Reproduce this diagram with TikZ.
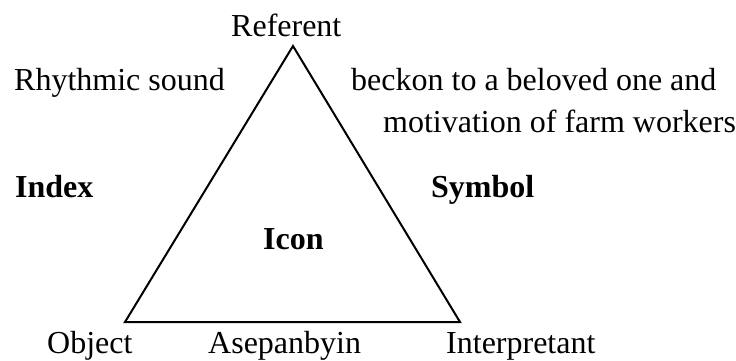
\documentclass[tikz,border=0pt]{standalone}
\usepackage{fontspec}
\setmainfont{Liberation Serif}
\begin{document}
\begin{tikzpicture}[x=1pt,y=-1pt,
  lbl/.style={font=\fontsize{32}{38}\selectfont, inner sep=0pt, anchor=base west},
  blbl/.style={lbl, font=\fontsize{32}{38}\selectfont\bfseries},
  edge/.style={line width=2pt, line join=miter}]
\useasboundingbox (0,0) rectangle (736,360);
\coordinate (top) at (293,46);
\coordinate (bl) at (125,322);
\coordinate (br) at (460,322);
\draw[edge] (top) -- (bl) -- (br) -- cycle;
\node[lbl] (referent) at (231,36) {Referent};
\node[lbl] (rhythmic) at (14,90) {Rhythmic sound};
\node[lbl] (beckon) at (351,90) {beckon to a beloved one and};
\node[lbl] (motivation) at (383,132) {motivation of farm workers};
\node[blbl] (index) at (15,197) {Index};
\node[blbl] (symbol) at (431,197) {Symbol};
\node[blbl] (icon) at (263,249) {Icon};
\node[lbl] (object) at (47,353) {Object};
\node[lbl] (asepanbyin) at (208,353) {Asepanbyin};
\node[lbl] (interpretant) at (446,353) {Interpretant};
\end{tikzpicture}
\end{document}
